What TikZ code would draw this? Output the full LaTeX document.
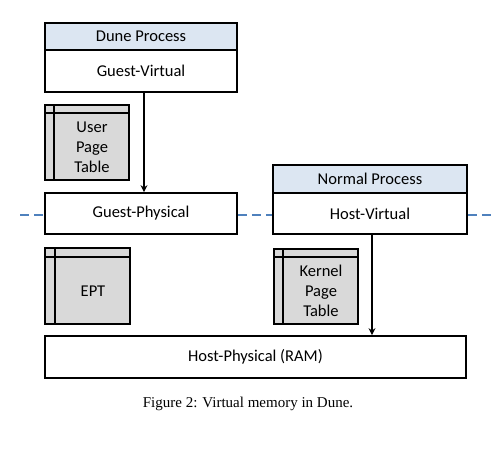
\documentclass[tikz,border=0pt]{standalone}
\usepackage{fontspec}
\setmainfont{Carlito}
\newfontfamily\capfont{Liberation Serif}
\usetikzlibrary{arrows.meta}
\definecolor{headblue}{RGB}{220,230,242}
\definecolor{ptgray}{RGB}{217,217,217}
\definecolor{dashblue}{RGB}{79,129,189}
\begin{document}
\begin{tikzpicture}[x=1pt,y=-1pt,
  box/.style={draw=black,line width=1.7pt,fill=white,rectangle,inner sep=0pt,font=\fontsize{16.5}{19}\selectfont},
  head/.style={box,fill=headblue},
  ptable/.style={draw=black,line width=1.6pt,fill=ptgray,rectangle,inner sep=0pt},
  ptline/.style={line width=1.6pt},
  pttext/.style={align=center,font=\fontsize{16.5}{20}\selectfont,inner sep=0pt},
  arr/.style={line width=1.6pt,-{Stealth[length=7pt,width=7pt]}},
  sep/.style={dashblue,line width=1.6pt,dash pattern=on 9pt off 5pt}]
\useasboundingbox (0,0) rectangle (496,452);
% Dune process
\node[head,minimum width=192pt,minimum height=27pt] (dh) at (141,36.5) {Dune Process};
\node[box,minimum width=192pt,minimum height=42pt] (gv) at (141,71) {Guest-Virtual};
% user page table
\node[ptable,minimum width=84pt,minimum height=75pt] (upt) at (87,142.5) {};
\draw[ptline] (upt.north west) ++(10,0) -- ++(0,75);
\draw[ptline] (upt.north west) ++(0,9) -- ++(84,0);
\node[pttext] (upttext) at (92,147) {User\\Page\\Table};
% guest physical
\node[box,minimum width=192pt,minimum height=41pt] (gp) at (141,213.5) {Guest-Physical};
% EPT
\node[ptable,minimum width=85pt,minimum height=76pt] (ept) at (87.5,286) {};
\draw[ptline] (ept.north west) ++(11,0) -- ++(0,76);
\draw[ptline] (ept.north west) ++(0,10) -- ++(85,0);
\node[pttext] (epttext) at (93,291) {EPT};
% Normal process
\node[head,minimum width=194pt,minimum height=28pt] (nh) at (370,179) {Normal Process};
\node[box,minimum width=194pt,minimum height=41pt] (hv) at (370,213.5) {Host-Virtual};
% kernel page table
\node[ptable,minimum width=84pt,minimum height=75pt] (kpt) at (316,286.5) {};
\draw[ptline] (kpt.north west) ++(10,0) -- ++(0,75);
\draw[ptline] (kpt.north west) ++(0,9) -- ++(84,0);
\node[pttext] (kpttext) at (321,291) {Kernel\\Page\\Table};
% host physical
\node[box,minimum width=421pt,minimum height=42pt] (hp) at (255.5,357) {Host-Physical (RAM)};
% arrows
\draw[arr] (gv.south -| 144,0) -- (gp.north -| 144,0);
\draw[arr] (hv.south -| 372,0) -- (hp.north -| 372,0);
% dashed separators
\coordinate (dl) at (20,215);
\coordinate (dr) at (491,215);
\draw[sep] (dl) -- (dl -| gp.west);
\draw[sep] (gp.east |- dl) -- (hv.west |- dl);
\draw[sep] (hv.east |- dl) -- (dr);
% caption
\node[font=\capfont\fontsize{15}{18}\selectfont,inner sep=0pt] (cap) at (248,404) {Figure 2: Virtual memory in Dune.};
\end{tikzpicture}
\end{document}
